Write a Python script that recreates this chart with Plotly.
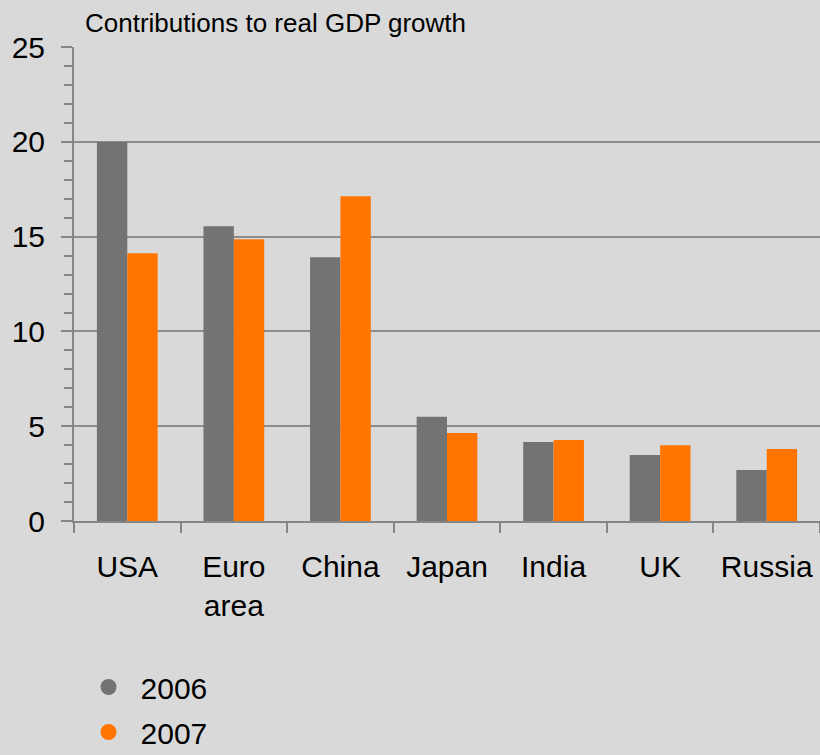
import plotly.graph_objects as go

categories = ["USA", "Euro<br>area", "China", "Japan", "India", "UK", "Russia"]
values_2006 = [20.0, 15.55, 13.92, 5.5, 4.17, 3.48, 2.69]
values_2007 = [14.13, 14.87, 17.14, 4.64, 4.27, 4.0, 3.8]
series_names = ["2006", "2007"]
colors = ["#737373", "#FF7500"]
y_ticks = [0, 5, 10, 15, 20, 25]

FONT = "Liberation Sans, Arial, sans-serif"
AXIS = "#868686"

fig = go.Figure()
for name, vals, col in zip(series_names, [values_2006, values_2007], colors):
    fig.add_trace(go.Bar(x=categories, y=vals, name=name, marker=dict(color=col, line=dict(width=0)),
                         showlegend=False))
for i, (name, col) in enumerate(zip(series_names, colors)):
    fig.add_trace(go.Scatter(x=[None], y=[None], mode="markers", name=name, legendgroup=name,
                             marker=dict(color=col, size=22, symbol="circle")))

fig.update_layout(
    width=820, height=755,
    margin=dict(l=74, r=0, t=47, b=234, autoexpand=False),
    paper_bgcolor="#D9D9D9", plot_bgcolor="#D9D9D9",
    font=dict(family=FONT, color="#000000", size=30),
    barmode="group", bargap=0.43, bargroupgap=0,
    title=dict(text="Contributions to real GDP growth", x=85/820, xref="container", xanchor="left",
               y=1 - 23/755, yref="container", yanchor="middle",
               font=dict(size=26, family=FONT, color="#000000")),
    legend=dict(x=0.0034, xanchor="left", y=-0.2953, yanchor="top", orientation="v",
                font=dict(size=30, family=FONT), itemwidth=54, tracegroupgap=3,
                bgcolor="rgba(0,0,0,0)"),
)
fig.update_xaxes(type="category", tickson="boundaries", ticks="outside", ticklen=10, tickwidth=2,
                 tickcolor=AXIS, showline=True, linecolor=AXIS, linewidth=2, showgrid=False,
                 tickfont=dict(size=30), range=[-0.5, 6.5], ticklabelstandoff=18)
fig.update_yaxes(range=[0, 25.01], tickvals=y_ticks, ticks="outside", ticklen=11, tickwidth=2,
                 tickcolor=AXIS, showline=True, linecolor=AXIS, linewidth=2,
                 showgrid=True, gridcolor="#8C8C8C", gridwidth=1.5, zeroline=False,
                 tickfont=dict(size=30), ticklabelstandoff=10,
                 minor=dict(dtick=1, ticks="outside", ticklen=8, tickwidth=2, tickcolor=AXIS, showgrid=False))

fig.write_html("out.html")
